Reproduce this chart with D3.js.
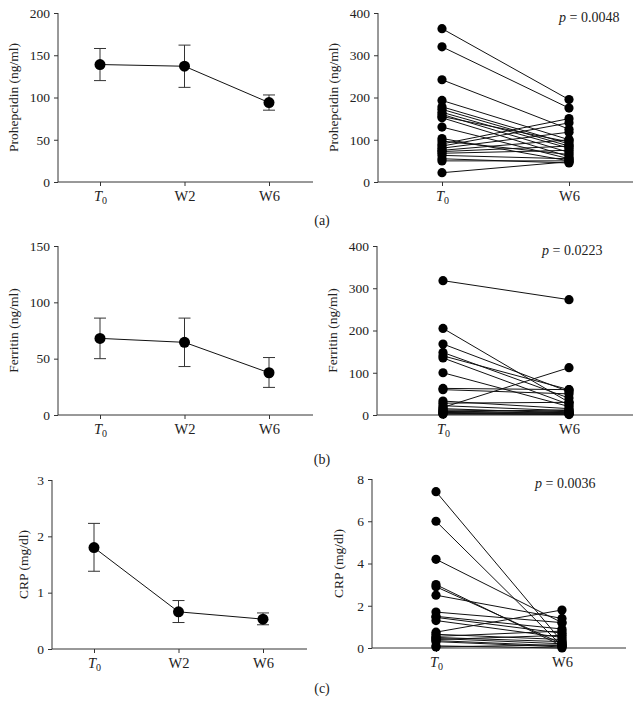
<!DOCTYPE html>
<html>
<head>
<meta charset="utf-8">
<script src="https://cdn.jsdelivr.net/npm/d3@7"></script>
<style>
  body { margin: 0; background: #fff; }
  svg text { font-family: "Liberation Serif", "Times New Roman", Times, serif; fill: #222; }
</style>
</head>
<body>
<div id="chart"></div>
<script>
// mean values with error bars (left panels)
var timeLabels = ["T0", "W2", "W6"];
var prohepMean = [139, 137, 94];
var prohepLo = [120, 112, 85];
var prohepHi = [158, 162, 103];
var ferrMean = [68, 64.5, 37.5];
var ferrLo = [50, 43, 24.5];
var ferrHi = [86, 86, 51];
var crpMean = [1.8, 0.66, 0.53];
var crpLo = [1.38, 0.47, 0.43];
var crpHi = [2.23, 0.86, 0.64];

// paired individual values, T0 -> W6 (right panels)
var pairLabels = ["T0", "W6"];
var prohepT0 = [363, 320, 242, 193, 178, 172, 165, 160, 155, 152, 130, 103, 97, 90, 85, 80, 75, 72, 68, 63, 55, 50, 22];
var prohepW6 = [195, 175, 125, 100, 90, 85, 80, 70, 95, 60, 55, 50, 65, 150, 140, 118, 100, 85, 75, 55, 45, 50, 48];
var ferrT0 = [318, 205, 168, 148, 140, 135, 100, 63, 60, 33, 28, 22, 18, 15, 12, 10, 8, 6, 5, 3, 2];
var ferrW6 = [273, 30, 55, 40, 60, 25, 20, 60, 50, 15, 30, 10, 112, 5, 8, 3, 12, 4, 2, 6, 1];
var crpT0 = [7.4, 6.0, 4.2, 3.0, 2.9, 2.5, 1.7, 1.5, 1.45, 1.3, 0.75, 0.65, 0.55, 0.5, 0.45, 0.4, 0.35, 0.3, 0.1, 0.05];
var crpW6 = [0.3, 0.1, 1.2, 0.1, 0.2, 1.4, 1.2, 0.9, 0.7, 0.5, 1.8, 0.4, 0.8, 0.3, 0.2, 0.6, 0.1, 0.05, 0.0, 0.15];

var pValues = ["0.0048", "0.0223", "0.0036"];
var panelTags = ["(a)", "(b)", "(c)"];

var svg = d3.select("#chart").append("svg")
  .attr("width", 642).attr("height", 716);

function catLabel(sel) {
  // italic T with subscript 0
  sel.each(function(d) {
    var t = d3.select(this).text(null);
    if (d === "T0") {
      t.append("tspan").attr("font-style", "italic").text("T");
      t.append("tspan").attr("font-size", "10px").attr("dy", "3").text("0");
    } else {
      t.text(d);
    }
  });
}

function drawAxes(g, x, y, cfg) {
  var ya = g.append("g").attr("transform", "translate(" + cfg.left + ",0)")
    .call(d3.axisLeft(y).tickValues(cfg.ticks).tickSize(4).tickPadding(4).tickFormat(d3.format("d")));
  var xa = g.append("g").attr("transform", "translate(0," + cfg.bottom + ")")
    .call(d3.axisBottom(x).tickSize(4).tickPadding(5));
  xa.select(".domain").attr("d", "M" + cfg.left + ",0H" + cfg.right);
  ya.select(".domain").attr("d", "M0," + y.range()[1] + "V" + y.range()[0]);
  [ya, xa].forEach(function(a) {
    a.attr("font-family", null);
    a.selectAll(".domain, line").attr("stroke", "#333").attr("stroke-width", 1);
    a.selectAll("text").attr("font-size", "13.5px").attr("fill", "#222");
  });
  xa.selectAll(".tick text").call(catLabel).attr("font-size", "14.5px");
  g.append("text")
    .attr("transform", "translate(" + (cfg.left - cfg.tOff) + "," + ((cfg.top + cfg.bottom) / 2) + ") rotate(-90)")
    .attr("text-anchor", "middle").attr("dominant-baseline", "middle").attr("font-size", "13.5px")
    .text(cfg.title);
}

function meanPanel(cfg) {
  var g = svg.append("g");
  var x = d3.scalePoint().domain(timeLabels).range([cfg.x0, cfg.x2]);
  var y = d3.scaleLinear().domain([0, cfg.max]).range([cfg.bottom, cfg.top]);
  drawAxes(g, x, y, cfg);
  var pts = timeLabels.map(function(c, i) {
    return { c: c, m: cfg.mean[i], lo: cfg.lo[i], hi: cfg.hi[i] };
  });
  var eb = g.selectAll(".eb").data(pts).enter().append("g");
  eb.append("line")
    .attr("x1", function(d) { return x(d.c); }).attr("x2", function(d) { return x(d.c); })
    .attr("y1", function(d) { return y(d.lo); }).attr("y2", function(d) { return y(d.hi); });
  eb.append("line")
    .attr("x1", function(d) { return x(d.c) - 6; }).attr("x2", function(d) { return x(d.c) + 6; })
    .attr("y1", function(d) { return y(d.lo); }).attr("y2", function(d) { return y(d.lo); });
  eb.append("line")
    .attr("x1", function(d) { return x(d.c) - 6; }).attr("x2", function(d) { return x(d.c) + 6; })
    .attr("y1", function(d) { return y(d.hi); }).attr("y2", function(d) { return y(d.hi); });
  eb.selectAll("line").attr("stroke", "#333").attr("stroke-width", 1);
  g.append("path").datum(pts)
    .attr("fill", "none").attr("stroke", "#111").attr("stroke-width", 1)
    .attr("d", d3.line().x(function(d) { return x(d.c); }).y(function(d) { return y(d.m); }));
  g.selectAll(".dot").data(pts).enter().append("circle")
    .attr("cx", function(d) { return x(d.c); }).attr("cy", function(d) { return y(d.m); })
    .attr("r", 5.5).attr("fill", "#000");
}

function pairPanel(cfg) {
  var g = svg.append("g");
  var x = d3.scalePoint().domain(pairLabels).range([cfg.x0, cfg.x1]);
  var y = d3.scaleLinear().domain([0, cfg.max]).range([cfg.bottom, cfg.top]);
  drawAxes(g, x, y, cfg);
  var pairs = cfg.a.map(function(v, i) { return [v, cfg.b[i]]; });
  g.selectAll(".pl").data(pairs).enter().append("line")
    .attr("x1", x("T0")).attr("x2", x("W6"))
    .attr("y1", function(d) { return y(d[0]); }).attr("y2", function(d) { return y(d[1]); })
    .attr("stroke", "#111").attr("stroke-width", 1);
  var dots = [];
  pairs.forEach(function(d) { dots.push(["T0", d[0]], ["W6", d[1]]); });
  g.selectAll(".dot").data(dots).enter().append("circle")
    .attr("cx", function(d) { return x(d[0]); }).attr("cy", function(d) { return y(d[1]); })
    .attr("r", 4.6).attr("fill", "#000");
  var pt = g.append("text").attr("x", cfg.px).attr("y", cfg.top + 9)
    .attr("font-size", "14px");
  pt.append("tspan").attr("font-style", "italic").text("p");
  pt.append("tspan").text(" = " + cfg.p);
}

var tagY = [225, 464, 693];

meanPanel({ top: 13, bottom: 182, left: 58, right: 313, x0: 100, x2: 269, max: 200, tOff: 43,
  ticks: [0, 50, 100, 150, 200], title: "Prohepcidin (ng/ml)",
  mean: prohepMean, lo: prohepLo, hi: prohepHi });
pairPanel({ top: 13, bottom: 182, left: 378, right: 633, x0: 442, x1: 569, max: 400, tOff: 43,
  ticks: [0, 100, 200, 300, 400], title: "Prohepcidin (ng/ml)",
  a: prohepT0, b: prohepW6, p: pValues[0], px: 559 });

meanPanel({ top: 246, bottom: 415, left: 58, right: 313, x0: 100, x2: 269, max: 150, tOff: 43,
  ticks: [0, 50, 100, 150], title: "Ferritin (ng/ml)",
  mean: ferrMean, lo: ferrLo, hi: ferrHi });
pairPanel({ top: 246, bottom: 415, left: 377, right: 633, x0: 443, x1: 569, max: 400, tOff: 43,
  ticks: [0, 100, 200, 300, 400], title: "Ferritin (ng/ml)",
  a: ferrT0, b: ferrW6, p: pValues[1], px: 542 });

meanPanel({ top: 480, bottom: 649, left: 52, right: 307, x0: 94, x2: 263, max: 3, tOff: 27,
  ticks: [0, 1, 2, 3], title: "CRP (mg/dl)",
  mean: crpMean, lo: crpLo, hi: crpHi });
pairPanel({ top: 479, bottom: 648, left: 372, right: 626, x0: 436, x1: 562, max: 8, tOff: 32,
  ticks: [0, 2, 4, 6, 8], title: "CRP (mg/dl)",
  a: crpT0, b: crpW6, p: pValues[2], px: 535 });

svg.selectAll(".tag").data(panelTags).enter().append("text")
  .attr("x", 322).attr("y", function(d, i) { return tagY[i]; })
  .attr("text-anchor", "middle").attr("font-size", "14px")
  .text(function(d) { return d; });
</script>
</body>
</html>
